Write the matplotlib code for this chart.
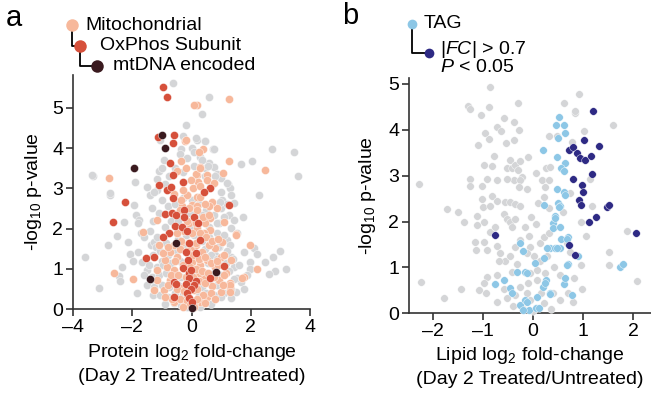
import matplotlib
matplotlib.use("Agg")
import matplotlib.pyplot as plt
from matplotlib.lines import Line2D
import numpy as np

plt.rcParams['font.family'] = ['Liberation Sans', 'DejaVu Sans']
plt.rcParams['mathtext.fontset'] = 'custom'
plt.rcParams['mathtext.rm'] = 'Liberation Sans'
plt.rcParams['mathtext.it'] = 'Liberation Sans:italic'

# ---------------- Panel a data (protein log2 FC, -log10 p) ----------------
prot_gray = [
    (-3.61, 1.30), (-3.13, 0.51), (-3.33, 3.32), (-2.76, 2.84), (-2.83, 1.59), (-2.51, 1.82),
    (-2.29, 2.16), (-2.14, 1.66), (-2.34, 1.05), (-2.45, 0.82), (-2.40, 0.70), (-2.08, 1.38),
    (-1.97, 1.19), (-1.92, 3.17), (-1.95, 2.59), (-1.89, 2.34), (-1.78, 2.21), (-1.81, 2.13),
    (-1.72, 1.88), (-1.59, 1.80), (-1.84, 0.39), (-1.81, 1.43), (-1.67, 1.18), (-1.50, 3.04),
    (-1.41, 2.84), (-1.33, 2.50), (-1.36, 1.59), (-1.27, 1.67), (-1.16, 1.80), (-1.50, 0.97),
    (-1.33, 0.72), (-1.18, 3.23), (-1.10, 3.42), (-0.99, 3.50), (-0.93, 3.71), (-1.05, 4.20),
    (-0.37, 3.97), (-0.18, 4.58), (-0.28, 4.30), (0.17, 4.20), (0.45, 4.18), (0.02, 4.00),
    (0.73, 3.97), (0.30, 3.79), (0.59, 3.62), (0.75, 3.52), (0.44, 3.50), (0.87, 3.37),
    (1.00, 3.27), (1.24, 3.10), (1.30, 3.00), (1.68, 3.61), (0.98, 2.92), (1.35, 2.84),
    (1.04, 2.71), (1.43, 2.63), (1.73, 2.28), (1.26, 2.34), (1.43, 2.21), (0.92, 2.13),
    (1.32, 2.01), (1.54, 1.88), (1.20, 1.72), (1.77, 1.43), (2.11, 1.51), (2.22, 1.38),
    (2.47, 1.18), (1.99, 1.18), (2.98, 1.45), (2.76, 1.29), (3.18, 0.99), (2.82, 0.95),
    (2.61, 0.86), (1.99, 0.99), (1.88, 0.85), (1.66, 0.68), (1.77, 0.49), (1.49, 0.43),
    (1.54, 0.76), (1.09, 0.39), (1.32, 0.27), (0.92, 1.55), (0.81, 1.34), (1.04, 1.22),
    (0.75, 1.09), (1.43, 1.05), (1.32, 1.30), (-0.62, 5.63), (0.59, 5.28), (0.34, 4.84),
    (0.14, 4.26), (0.44, 4.19), (0.75, 3.98), (2.73, 3.98), (3.46, 3.91), (3.60, 3.32),
    (2.05, 3.68), (2.27, 2.84), (1.20, 3.13), (-3.36, 3.33), (-2.76, 2.88), (-1.16, 2.96),
    (-0.40, 3.85), (-0.15, 3.75), (0.10, 3.90), (0.35, 3.70), (0.55, 3.55), (-0.55, 3.50),
    (-0.75, 3.30), (0.10, 3.55), (0.45, 3.30), (0.80, 3.30), (-0.30, 3.40), (0.65, 3.05),
    (-0.90, 3.10), (-1.25, 2.90), (-1.00, 2.70), (-0.80, 2.55), (-0.55, 2.60), (-0.30, 2.75),
    (0.00, 2.70), (0.25, 2.60), (0.50, 2.45), (0.75, 2.35), (1.00, 2.50), (1.20, 2.60),
    (-1.10, 2.40), (-1.30, 2.20), (-0.70, 2.20), (-0.45, 2.20), (0.00, 2.05), (0.35, 2.35),
    (0.60, 2.05), (0.85, 2.15), (1.10, 2.30), (-0.90, 2.05), (0.95, 2.65), (-0.05, 2.40),
    (-1.40, 1.95), (-1.20, 1.55), (-1.05, 1.45), (-0.85, 1.65), (-0.65, 1.55), (-0.45, 1.75),
    (-0.20, 1.85), (0.10, 1.85), (0.35, 1.70), (0.60, 1.80), (0.85, 1.90), (1.10, 1.85),
    (1.30, 1.60), (-1.30, 1.35), (-1.00, 1.20), (-0.80, 1.35), (-0.50, 1.45), (-0.30, 1.55),
    (0.05, 1.55), (0.45, 1.50), (0.65, 1.35), (0.90, 1.55), (1.20, 1.45), (1.40, 1.25),
    (-1.45, 1.10), (-1.15, 1.05), (-0.95, 1.10), (-0.70, 1.15), (-0.40, 1.20), (0.20, 1.30),
    (0.55, 1.15), (0.85, 1.25), (1.15, 1.15), (1.60, 1.10), (-1.60, 0.85), (-1.35, 0.80),
    (-1.10, 0.85), (-0.85, 0.90), (-0.60, 0.85), (-0.35, 0.80), (0.20, 0.95), (0.45, 0.90),
    (0.75, 0.90), (1.00, 0.85), (1.25, 0.95), (1.45, 0.75), (-1.50, 0.60), (-1.25, 0.55),
    (-1.00, 0.60), (-0.75, 0.55), (-0.45, 0.60), (0.35, 0.55), (0.60, 0.65), (0.85, 0.60),
    (1.10, 0.60), (1.35, 0.50), (-1.30, 0.35), (-1.05, 0.35), (-0.80, 0.30), (-0.55, 0.40),
    (-0.30, 0.35), (0.25, 0.35), (0.50, 0.40), (0.75, 0.35), (1.00, 0.30), (-0.90, 0.12),
    (-0.60, 0.15), (-0.35, 0.10), (0.15, 0.20), (0.40, 0.15), (0.65, 0.12), (-0.15, 0.05),
    (0.30, 0.05),
]
prot_mito = [
    (0.17, 5.07), (1.27, 5.22), (-2.77, 3.25), (-0.23, 4.18), (0.38, 3.98), (0.25, 3.91),
    (1.26, 3.67), (1.07, 3.39), (2.47, 3.46), (-2.62, 0.90), (-1.97, 0.75), (-1.63, 1.92),
    (-1.16, 2.21), (1.51, 1.87), (1.99, 1.59), (2.22, 0.99), (1.77, 0.80), (1.30, 0.64),
    (1.30, 0.51), (0.87, 2.50), (0.68, 2.65), (0.53, 2.26), (0.30, 3.54), (0.53, 3.33),
    (0.19, 3.33), (0.21, 3.17), (1.09, 2.17), (0.64, 2.26), (1.49, 1.84), (1.35, 1.22),
    (1.71, 0.76), (1.29, 0.60), (1.29, 0.43), (0.19, 2.79), (0.47, 2.13), (0.64, 1.97),
    (0.42, 1.88), (0.81, 1.51), (0.98, 1.30), (0.53, 1.22), (0.30, 1.09), (0.81, 1.05),
    (0.42, 0.80), (0.70, 0.56), (0.98, 0.43), (0.53, 0.31), (0.30, 0.18), (0.08, 0.14),
    (0.19, 2.01), (0.14, 1.59), (0.25, 0.89), (0.92, 0.72), (1.15, 0.89), (0.02, 1.26),
    (0.36, 1.43), (0.59, 1.59), (1.04, 1.67), (-0.03, 0.56), (-0.82, 1.05), (-1.16, 0.97),
    (-0.93, 0.47), (-1.27, 0.47), (-0.71, 1.43), (-0.88, 1.22), (-0.60, 0.97), (-0.37, 1.63),
    (-0.48, 1.30), (-0.20, 1.05), (-0.32, 0.51), (-0.26, 0.22), (-0.60, 0.18), (0.02, 2.59),
    (-0.15, 2.84), (-0.09, 2.13), (-0.32, 2.55), (-0.48, 1.88), (-1.16, 0.72), (-0.71, 0.72),
    (-0.03, 1.47), (0.08, 0.47), (0.02, 1.18), (-0.20, 4.20), (0.08, 5.07), (-0.20, 3.50),
    (-0.48, 3.42), (-0.37, 3.67), (0.14, 3.37), (-0.03, 3.21), (0.30, 3.50), (0.53, 3.21),
    (0.75, 3.13), (0.59, 2.55), (0.30, 2.79), (0.19, 2.55), (-0.15, 2.84), (-0.37, 2.71),
    (-0.60, 1.60), (-0.40, 1.50), (-0.15, 1.45), (0.05, 1.35), (0.25, 1.25), (0.45, 1.30),
    (0.65, 1.15), (-0.55, 1.20), (-0.30, 1.10), (-0.05, 1.05), (0.15, 1.00), (0.35, 0.95),
    (0.55, 0.90), (0.75, 0.80), (-0.70, 0.85), (-0.45, 0.85), (-0.20, 0.80), (0.05, 0.80),
    (0.25, 0.70), (0.45, 0.65), (0.65, 0.40), (-0.80, 0.60), (-0.50, 0.50), (-0.25, 0.45),
    (0.00, 0.60), (0.20, 0.50), (0.40, 0.35), (-0.65, 0.25), (-0.40, 0.25), (-0.15, 0.20),
    (0.20, 0.25), (0.45, 0.15), (-0.05, 0.10), (-0.30, 0.05), (0.10, 0.05), (-0.25, 1.95),
    (0.00, 1.90), (0.30, 1.90), (0.50, 1.80), (-0.50, 1.90), (-0.15, 2.20), (0.15, 2.15),
    (0.40, 2.30), (-0.40, 2.45), (-0.10, 2.50), (0.20, 2.45), (0.45, 2.60), (-0.60, 2.85),
    (-0.30, 2.95), (0.05, 3.00), (0.30, 3.05), (0.15, 1.65), (-0.35, 1.70), (0.70, 1.70),
    (0.90, 1.75), (0.90, 1.10), (1.10, 0.85), (-0.95, 1.40), (-0.80, 1.55), (0.60, 2.35),
    (0.85, 1.20), (-0.90, 0.30), (0.80, 0.25), (1.05, 0.60), (1.10, 1.35), (-1.10, 1.60),
]
prot_oxphos = [
    (-0.97, 5.51), (-0.82, 5.28), (-0.60, 4.33), (-0.63, 4.14), (-1.13, 4.29), (-0.71, 3.64),
    (-0.62, 3.33), (-1.10, 3.08), (-0.82, 2.96), (-0.68, 3.03), (-0.29, 3.15), (-0.62, 2.75),
    (0.62, 3.02), (0.42, 2.90), (1.26, 2.58), (-2.23, 2.67), (-2.65, 2.17), (-0.90, 2.36),
    (-0.65, 2.38), (-0.52, 2.34), (-0.26, 2.46), (-0.26, 2.28), (-0.57, 2.07), (-0.32, 2.03),
    (-0.15, 1.95), (0.08, 2.28), (0.23, 2.15), (-0.77, 1.88), (-0.97, 1.80), (-0.07, 1.65),
    (0.30, 1.72), (0.14, 1.40), (-0.11, 1.22), (-1.52, 1.26), (-1.27, 1.29), (1.11, 1.07),
    (-0.28, 1.01), (-0.09, 0.90), (0.62, 0.76), (-0.09, 0.76), (-0.60, 0.68), (-0.51, 0.62),
    (-0.20, 0.62), (0.16, 0.70), (0.10, 0.60), (-0.03, 0.49), (-0.15, 0.41), (-0.60, 0.31),
    (-0.09, 0.27), (0.02, 0.18), (-0.20, 1.43), (-0.03, 0.97),
]
prot_mtdna = [
    (-1.01, 4.33), (-0.88, 4.00), (-1.93, 3.50), (-0.54, 1.63), (-1.39, 0.75), (0.83, 0.93),
    (0.00, 0.02),
]

# ---------------- Panel b data (lipid log2 FC, -log10 p) ----------------
lipid_gray = [
    (-2.28, 2.81), (-2.25, 0.69), (-1.79, 0.33), (-1.72, 2.27), (-1.50, 2.21), (-1.45, 0.52),
    (-1.38, 2.00), (-0.86, 4.94), (-1.30, 4.52), (-1.26, 4.46), (-1.05, 4.32), (-0.89, 4.49),
    (-1.11, 3.68), (-0.96, 3.93), (-0.88, 3.81), (-0.58, 4.25), (-0.98, 3.23), (-0.83, 3.21),
    (-0.78, 3.44), (-1.26, 2.92), (-1.26, 2.78), (-0.92, 2.92), (-1.02, 2.78), (-0.73, 4.07),
    (-0.65, 3.98), (-0.55, 3.71), (-0.38, 4.16), (-0.29, 4.00), (-0.31, 4.58), (-0.39, 3.78),
    (-0.46, 3.34), (-0.53, 3.16), (-0.43, 3.16), (-0.36, 3.23), (-0.31, 3.12), (-0.26, 3.31),
    (-0.23, 2.98), (-0.38, 2.91), (-0.26, 2.91), (-0.29, 2.76), (-0.53, 2.92), (-0.73, 2.91),
    (-0.83, 2.56), (-0.73, 2.45), (-0.56, 2.42), (-0.46, 2.42), (-0.36, 2.38), (-0.26, 2.35),
    (-1.03, 2.49), (-1.01, 2.31), (-0.86, 2.35), (-1.13, 2.12), (-0.98, 1.98), (-1.13, 1.92),
    (-0.86, 1.78), (-0.76, 1.89), (-0.59, 2.16), (-0.53, 2.05), (-0.46, 2.00), (-0.43, 1.89),
    (-0.36, 2.05), (-1.16, 1.56), (-0.99, 1.56), (-1.15, 1.38), (-0.93, 1.38), (-0.73, 1.47),
    (-0.66, 1.32), (-0.56, 1.13), (-0.69, 1.13), (-0.46, 1.24), (-0.36, 1.45), (-0.26, 1.60),
    (-0.09, 1.69), (-0.06, 1.45), (-0.13, 1.31), (0.01, 1.24), (0.13, 1.53), (0.21, 1.67),
    (0.31, 1.74), (0.91, 4.78), (0.61, 4.59), (0.83, 4.36), (0.84, 4.42), (1.59, 4.11),
    (1.01, 3.98), (0.77, 3.74), (0.47, 3.87), (0.31, 3.87), (0.26, 3.16), (0.34, 3.20),
    (0.17, 2.91), (0.31, 2.91), (0.24, 2.76), (0.31, 2.29), (0.21, 2.54), (0.74, 2.62),
    (1.13, 2.92), (1.18, 2.35), (1.06, 1.69), (1.87, 1.79), (1.51, 1.34), (1.51, 1.05),
    (2.08, 0.71), (0.96, 1.05), (0.98, 0.52), (0.81, 0.76), (0.80, 0.25), (0.69, 0.44),
    (0.54, 0.29), (0.39, 0.44), (0.21, 0.23), (-0.06, 0.29), (-0.13, 0.44), (-0.26, 0.58),
    (-0.36, 0.40), (-0.53, 0.33), (-0.59, 0.52), (-0.73, 0.84), (-0.93, 0.80), (-0.98, 0.65),
    (-1.08, 0.51), (-0.94, 0.44), (-0.73, 0.25), (-0.07, 0.87), (0.07, 0.94), (0.24, 0.87),
    (0.41, 1.02), (0.53, 0.84), (0.07, 0.73), (-0.33, 1.07), (-0.43, 0.91), (0.14, 1.13),
    (0.27, 1.24), (0.73, 1.34), (0.68, 1.53), (-0.16, 1.88), (-0.05, 2.10), (0.05, 1.95),
    (-0.20, 0.10), (0.00, 0.05), (-0.40, 0.15), (0.35, 0.10), (-0.10, 0.65), (0.15, 0.45),
    (0.95, 2.00), (0.60, 2.20), (0.10, 2.40), (-0.12, 2.70), (0.05, 3.05), (-0.10, 3.40),
]
lipid_tag = [
    (0.52, 4.27), (0.46, 4.11), (0.61, 4.11), (0.64, 3.92), (0.49, 3.82), (0.19, 3.55),
    (0.47, 3.41), (0.64, 3.28), (0.56, 3.16), (0.61, 3.10), (0.47, 2.72), (0.61, 2.65),
    (0.64, 2.58), (0.21, 2.36), (0.49, 2.41), (0.53, 2.34), (0.44, 2.12), (0.39, 1.96),
    (0.39, 1.85), (0.54, 1.89), (0.69, 1.66), (0.56, 1.61), (0.34, 1.43), (0.44, 1.43),
    (0.54, 1.43), (-0.26, 1.54), (-0.21, 1.35), (0.89, 1.25), (0.69, 1.07), (0.04, 1.10),
    (-0.16, 0.89), (-0.33, 0.90), (-0.46, 0.56), (-0.43, 0.44), (-0.76, 0.63), (-0.58, 0.73),
    (0.26, 0.73), (0.34, 0.44), (0.61, 0.63), (0.64, 0.78), (0.78, 0.40), (0.19, 0.58),
    (0.07, 0.36), (-0.26, 0.18), (-0.17, 0.29), (-0.09, 0.07), (0.05, 0.11), (-0.21, 0.07),
    (1.73, 1.00), (1.80, 1.07), (0.67, 1.63), (0.47, 1.42), (0.27, 1.42), (0.21, 1.20),
    (0.67, 1.05), (0.34, 0.42), (-0.13, 0.87), (0.24, 0.65), (0.11, 0.11), (-0.13, 0.25),
    (0.51, 2.32), (0.44, 2.07),
]
lipid_sig = [
    (1.19, 4.41), (1.01, 3.78), (1.32, 3.65), (0.72, 3.56), (0.79, 3.63), (0.87, 3.49),
    (0.94, 3.39), (1.04, 3.34), (1.15, 3.43), (1.17, 3.03), (0.79, 2.93), (0.97, 2.80),
    (0.99, 2.65), (0.91, 2.47), (0.96, 2.37), (1.47, 2.32), (1.52, 2.37), (1.25, 2.11),
    (1.11, 2.00), (2.06, 1.74), (0.71, 1.49), (0.83, 1.27), (-0.76, 1.70),
]

prot_xticks = [-4, -2, 0, 2, 4]
prot_yticks = [0, 1, 2, 3, 4, 5]
lipid_xticks = [-2, -1, 0, 1, 2]
lipid_yticks = [0, 1, 2, 3, 4, 5]

C_GRAY = '#d4d5d7'
C_MITO = '#f7b89b'
C_OX = '#d6503b'
C_MT = '#3a1a1f'
C_TAG = '#8dc7e6'
C_SIG = '#2e2a84'
AX_COL = '#333333'
FS = 14

W, H = 651, 395
fig = plt.figure(figsize=(W / 100, H / 100), dpi=100)

def fx(p):
    return p / W

def fy(p):
    return 1 - p / H

def style(ax):
    for s in ['top', 'right']:
        ax.spines[s].set_visible(False)
    for s in ['left', 'bottom']:
        ax.spines[s].set_linewidth(1.2)
        ax.spines[s].set_color(AX_COL)
    ax.tick_params(width=1.2, length=5, color=AX_COL, labelsize=FS, pad=2)

def scat(ax, pts, color, s):
    a = np.array(pts)
    ax.scatter(a[:, 0], a[:, 1], s=s, c=color, edgecolors='white', linewidths=0.3,
               clip_on=False, zorder=3)

# ---------- Panel a ----------
A_L, A_R, A_B, A_T = 73, 310, 309, 75
axa = fig.add_axes([fx(A_L), fy(A_B), fx(A_R - A_L), (A_B - A_T) / H])
scat(axa, prot_gray, C_GRAY, 34)
scat(axa, prot_mito, C_MITO, 34)
scat(axa, prot_oxphos, C_OX, 34)
scat(axa, prot_mtdna, C_MT, 34)
axa.set_xlim(-4, 4)
axa.set_ylim(0, 5.82)
axa.set_xticks(prot_xticks)
axa.set_xticklabels(['\u2013' + str(abs(v)) if v < 0 else str(v) for v in prot_xticks])
axa.set_yticks(prot_yticks)
style(axa)
axa.set_xlabel('Protein log$_2$ fold-change\n(Day 2 Treated/Untreated)', fontsize=FS,
               linespacing=1.38)
axa.xaxis.set_label_coords(0.5, -(342 - A_B) / (A_B - A_T))
axa.set_ylabel('-log$_{10}$ p-value', fontsize=FS, va='center')
axa.yaxis.set_label_coords((33 - A_L) / (A_R - A_L), 0.5)

# ---------- Panel b ----------
B_L, B_R, B_B, B_T = 409, 651, 313.3, 78
axb = fig.add_axes([fx(B_L), fy(B_B), fx(B_R - B_L), (B_B - B_T) / H])
scat(axb, lipid_gray, C_GRAY, 30)
scat(axb, lipid_tag, C_TAG, 30)
scat(axb, lipid_sig, C_SIG, 30)
axb.set_xlim(-2.48, 2.36)
axb.set_ylim(0, 5.13)
axb.set_xticks(lipid_xticks)
axb.set_xticklabels(['\u2013' + str(abs(v)) if v < 0 else str(v) for v in lipid_xticks])
axb.set_yticks(lipid_yticks)
style(axb)
axb.set_xlabel('Lipid log$_2$ fold-change\n(Day 2 Treated/Untreated)', fontsize=FS,
               linespacing=1.38)
axb.xaxis.set_label_coords(0.5, -(345 - B_B) / (B_B - B_T))
axb.set_ylabel('-log$_{10}$ p-value', fontsize=FS, va='center')
axb.yaxis.set_label_coords((368 - B_L) / (B_R - B_L), 0.5)

# ---------- Panel labels ----------
fig.text(fx(14), fy(18), 'a', fontsize=21, ha='center', va='center')
fig.text(fx(350), fy(16), 'b', fontsize=21, ha='center', va='center')

# ---------- Legend a ----------
def conn(x0, y0, x1, y1):
    fig.add_artist(Line2D([fx(x0), fx(x0), fx(x1)], [fy(y0), fy(y1), fy(y1)],
                          color='black', lw=1.3, transform=fig.transFigure))

def dot(x, y, c, ms):
    fig.add_artist(Line2D([fx(x)], [fy(y)], marker='o', ms=ms, color=c, mec='none',
                          transform=fig.transFigure))

conn(72, 25, 80, 46)
conn(80, 46, 97, 66)
dot(72, 25, C_MITO, 9)
dot(80, 46, C_OX, 9)
dot(97, 66, C_MT, 9)
fig.text(fx(85), fy(25), 'Mitochondrial', fontsize=FS, va='center', ha='left')
fig.text(fx(100), fy(45), 'OxPhos Subunit', fontsize=FS, va='center', ha='left')
fig.text(fx(113), fy(65), 'mtDNA encoded', fontsize=FS, va='center', ha='left')

# ---------- Legend b ----------
conn(412, 24, 429, 53)
dot(412, 24, C_TAG, 7)
dot(429, 53, C_SIG, 7)
fig.text(fx(424), fy(24), 'TAG', fontsize=FS, va='center', ha='left')
fig.text(fx(440), fy(49), '|$\\mathit{FC}$| > 0.7', fontsize=FS, va='center', ha='left')
fig.text(fx(440), fy(68), '$\\mathit{P}$ < 0.05', fontsize=FS, va='center', ha='left')

fig.savefig('out.png', dpi=100)
